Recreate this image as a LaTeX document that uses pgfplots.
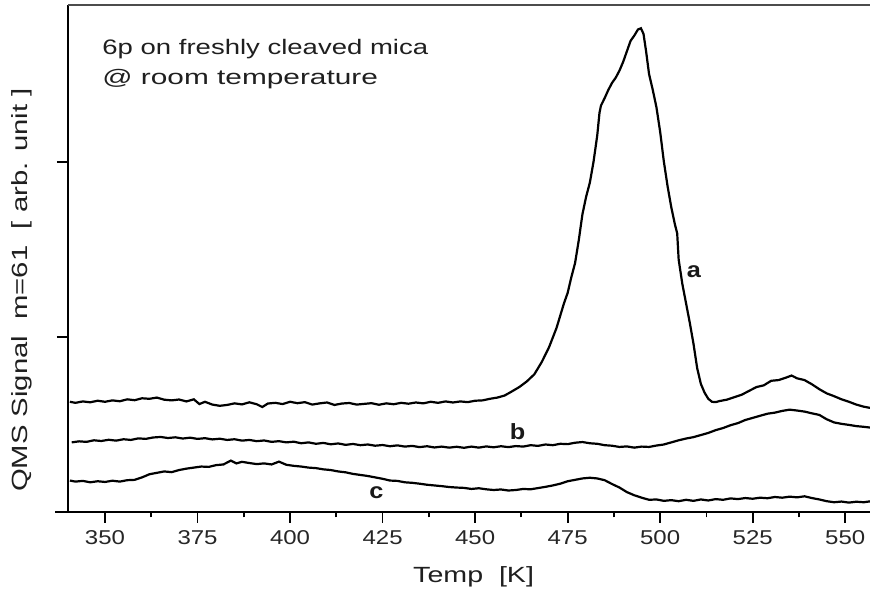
\documentclass[border=0pt]{standalone}
\usepackage{fontspec}
\setmainfont{Liberation Sans}
\usepackage{pgfplots}
\pgfplotsset{compat=1.18}

% QMS signal (m=61) versus temperature, three desorption runs
\pgfplotstableread{
T S
340.5 0.628
342 0.622
344 0.630
346 0.625
348 0.634
350 0.628
352 0.636
354 0.631
356 0.642
358 0.637
360 0.648
362 0.645
364 0.652
366 0.640
368 0.636
370 0.641
372 0.630
374 0.642
375.5 0.615
377 0.628
379 0.612
381 0.605
383 0.610
385 0.619
387 0.613
389 0.625
391 0.614
392.5 0.598
394 0.618
396 0.622
398 0.615
400 0.628
402 0.620
404 0.626
406 0.612
408 0.619
410 0.624
412 0.610
414 0.618
416 0.621
418 0.612
420 0.616
422 0.620
424 0.611
426 0.619
428 0.614
430 0.622
432 0.617
434 0.624
436 0.619
438 0.628
440 0.622
442 0.630
444 0.624
446 0.630
448 0.626
450 0.634
452 0.636
454 0.645
456 0.652
458 0.664
460 0.688
462 0.713
464 0.745
466 0.785
468 0.855
470 0.941
472 1.050
473 1.120
474 1.190
475 1.250
476 1.340
477 1.420
478 1.550
479 1.700
480 1.800
481 1.880
482 2.000
483 2.150
483.6 2.278
484 2.320
485 2.363
486 2.410
487 2.450
488 2.480
489 2.520
490 2.570
491 2.630
492 2.690
493 2.720
494 2.755
494.8 2.762
495.5 2.730
496.2 2.630
497 2.500
498 2.410
499 2.310
500 2.170
501 2.000
502 1.860
503 1.740
504 1.640
504.6 1.590
505 1.440
506 1.300
507 1.190
508 1.080
509 0.960
510 0.820
511 0.730
512 0.680
513 0.645
514 0.628
515 0.626
516 0.632
518 0.640
520 0.654
522 0.668
524 0.690
526 0.712
528 0.722
530 0.748
532 0.752
534 0.766
535.5 0.778
537 0.762
539 0.752
541 0.728
543 0.700
545 0.676
547 0.660
549 0.642
551 0.628
553 0.612
555 0.600
557 0.592
}\runa

\pgfplotstableread{
T S
341 0.396
343 0.402
345 0.399
347 0.408
349 0.404
351 0.411
353 0.406
355 0.414
357 0.410
359 0.419
361 0.416
363 0.424
365 0.427
367 0.421
369 0.425
371 0.418
373 0.423
375 0.416
377 0.420
379 0.413
381 0.417
383 0.410
385 0.414
387 0.406
389 0.410
391 0.403
393 0.407
395 0.399
397 0.403
399 0.396
401 0.400
403 0.391
405 0.396
407 0.388
409 0.393
411 0.385
413 0.390
415 0.382
417 0.387
419 0.380
421 0.384
423 0.377
425 0.381
427 0.374
429 0.379
431 0.372
433 0.376
435 0.369
437 0.374
439 0.367
441 0.372
443 0.366
445 0.371
447 0.365
449 0.372
451 0.366
453 0.373
455 0.368
457 0.374
459 0.369
461 0.375
463 0.372
465 0.380
467 0.376
469 0.384
471 0.380
473 0.388
475 0.386
477 0.394
479 0.398
481 0.391
483 0.388
485 0.380
487 0.377
489 0.370
491 0.373
493 0.366
495 0.372
497 0.370
499 0.378
501 0.384
503 0.396
505 0.408
507 0.418
509 0.426
511 0.438
513 0.450
515 0.466
517 0.478
519 0.494
521 0.506
523 0.524
525 0.536
527 0.548
529 0.560
531 0.566
533 0.576
535 0.583
537 0.578
539 0.572
541 0.562
543 0.553
545 0.528
547 0.510
549 0.502
551 0.496
553 0.489
555 0.485
557 0.480
}\runb

\pgfplotstableread{
T S
340.5 0.178
342 0.172
344 0.176
346 0.168
348 0.174
350 0.170
352 0.177
354 0.172
356 0.180
358 0.182
360 0.196
362 0.214
364 0.222
366 0.230
368 0.226
370 0.238
372 0.246
374 0.252
376 0.258
378 0.256
380 0.266
382 0.270
384 0.292
385.5 0.276
387 0.285
389 0.278
391 0.272
393 0.276
395 0.270
397 0.286
399 0.268
401 0.262
403 0.258
405 0.252
407 0.249
409 0.242
411 0.238
413 0.230
415 0.225
417 0.216
419 0.210
421 0.204
423 0.196
425 0.188
427 0.178
429 0.176
431 0.168
433 0.165
435 0.160
437 0.154
439 0.150
441 0.146
443 0.141
445 0.138
447 0.136
449 0.130
451 0.134
453 0.128
455 0.124
457 0.127
459 0.121
461 0.124
463 0.130
465 0.128
467 0.135
469 0.142
471 0.150
473 0.160
475 0.174
477 0.182
479 0.190
481 0.194
483 0.190
485 0.180
487 0.158
489 0.138
491 0.112
493 0.094
495 0.080
497 0.068
499 0.070
501 0.062
503 0.066
505 0.060
507 0.068
509 0.062
511 0.070
513 0.064
515 0.072
517 0.068
519 0.076
521 0.072
523 0.078
525 0.074
527 0.080
529 0.077
531 0.084
533 0.080
535 0.086
537 0.082
539 0.088
541 0.078
543 0.070
545 0.060
547 0.054
549 0.058
551 0.052
553 0.057
555 0.054
557 0.060
}\runc

% horizontally widened lettering
\newcommand{\wide}[2]{\scalebox{#1}[1]{#2}}

\begin{document}
\begin{tikzpicture}
\begin{axis}[
  scale only axis,
  width=401pt, height=253.35pt,
  xmin=340, xmax=556.7, ymin=0, ymax=2.895,
  axis x line*=bottom, axis y line*=left,
  axis line style={line width=1pt, black},
  xtick={350,375,...,550},
  minor x tick num=1,
  ytick={1,2}, yticklabels={},
  tick align=outside,
  major tick length=5.5pt, minor tick length=2.8pt,
  every tick/.style={black, line width=0.9pt},
  xticklabel={\wide{1.2}{\pgfmathprintnumber[assume math mode=true]{\tick}}},
  xticklabel style={font=\fontsize{10}{12}\selectfont, text=black!85, anchor=base, yshift=-10.7pt},
  clip=false,
]
\addplot[black, line width=1.1pt] table[x=T, y=S] {\runa};
\addplot[black, line width=1.1pt] table[x=T, y=S] {\runb};
\addplot[black, line width=1.1pt] table[x=T, y=S] {\runc};

% frame top and the overhang of the temperature axis
\draw[black!70, line width=1.3pt] (rel axis cs:0,1) -- (rel axis cs:1,1);
\draw[black, line width=1pt] ([xshift=-6.5pt]rel axis cs:0,0) -- (rel axis cs:0,0);

% curve labels
\node[font=\fontsize{11}{13}\selectfont\bfseries, text=black!90] at (axis cs:509.1,1.37) {\wide{1.15}{a}};
\node[font=\fontsize{11}{13}\selectfont\bfseries, text=black!90] at (axis cs:461.5,0.455) {\wide{1.15}{b}};
\node[font=\fontsize{11}{13}\selectfont\bfseries, text=black!90] at (axis cs:423.3,0.107) {\wide{1.15}{c}};

% sample description
\node[anchor=base west, font=\fontsize{10.5}{12}\selectfont, text=black!88, inner sep=0pt] at (axis cs:349.2,2.61) {\wide{1.31}{6p on freshly cleaved mica}};
\node[anchor=base west, font=\fontsize{10.5}{12}\selectfont, text=black!88, inner sep=0pt] at (axis cs:349.2,2.44) {\wide{1.42}{@ room temperature}};

% axis titles
\node[anchor=base, font=\fontsize{11}{13}\selectfont, text=black!88, inner sep=0pt] at ([yshift=-35.2pt]axis cs:449.6,0) {\wide{1.3}{Temp\ \ [K]}};
\node[rotate=90, font=\fontsize{11}{13}\selectfont, text=black!88, inner sep=0pt] at ([xshift=-23pt]rel axis cs:0,0.4375) {\wide{1.33}{QMS Signal\ \ m=61\ \ [ arb. unit ]}};

\coordinate (sw) at (rel axis cs:0,0);
\coordinate (ne) at (rel axis cs:1,1);
\end{axis}
\pgfresetboundingbox
\path[use as bounding box] ([shift={(-34pt,-40.65pt)}]sw) rectangle ([shift={(0pt,2.5pt)}]ne);
\end{tikzpicture}
\end{document}
